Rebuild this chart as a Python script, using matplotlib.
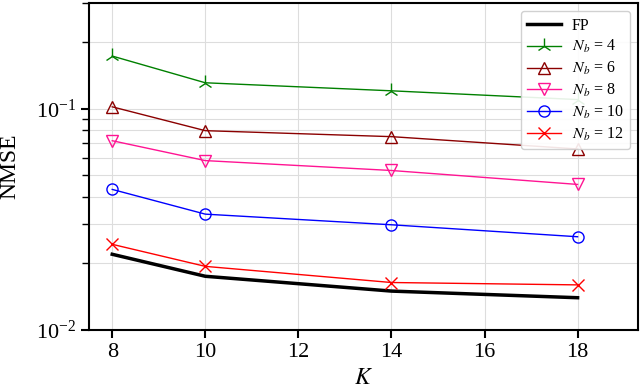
import matplotlib
matplotlib.use("Agg")
from matplotlib import pyplot as plt

plt.rcParams['font.family'] = ['Liberation Serif', 'DejaVu Serif']
plt.rcParams['mathtext.fontset'] = 'stix'

K = [8, 10, 14, 18]
fp = [0.0220, 0.0175, 0.0150, 0.0140]
nb4 = [0.173, 0.131, 0.1205, 0.110]
nb6 = [0.102, 0.0796, 0.0748, 0.0658]
nb8 = [0.0717, 0.0583, 0.0526, 0.0455]
nb10 = [0.0432, 0.0334, 0.0299, 0.0264]
nb12 = [0.0244, 0.0194, 0.0164, 0.0160]

fig = plt.figure(figsize=(6.4, 3.92), dpi=100)
ax = fig.add_axes([0.139, 0.158, 0.858, 0.834])

ax.plot(K, fp, color='black', lw=2.5, label='FP')
ax.plot(K, nb4, color='green', lw=1, marker='2', ms=11, label=r'$N_b$ = 4')
ax.plot(K, nb6, color='darkred', lw=1, marker='^', ms=8, mfc='none', label=r'$N_b$ = 6')
ax.plot(K, nb8, color='#ff1493', lw=1, marker='v', ms=8, mfc='none', label=r'$N_b$ = 8')
ax.plot(K, nb10, color='blue', lw=1, marker='o', ms=8, mfc='none', label=r'$N_b$ = 10')
ax.plot(K, nb12, color='red', lw=1, marker='x', ms=9, label=r'$N_b$ = 12')

ax.set_yscale('log')
ax.set_ylim(0.01, 0.3)
ax.set_xlim(7.5, 19.3)
ax.set_xticks([8, 10, 12, 14, 16, 18])
ax.grid(True, which='both', color='#dddddd', lw=0.8)
ax.set_axisbelow(True)
for s in ax.spines.values():
    s.set_linewidth(1.5)
ax.tick_params(which='major', labelsize=16, width=1.5, length=6)
ax.tick_params(which='minor', width=1, length=5)
ax.set_xlabel(r'$K$', fontsize=17, labelpad=4)
ax.set_ylabel('NMSE', fontsize=17, labelpad=11)
ax.legend(loc='upper right', fontsize=11.5, framealpha=0.9, borderaxespad=0.5,
          handlelength=2.1, handletextpad=0.7, labelspacing=0.3, borderpad=0.4)

fig.savefig('out.png', dpi=100)
